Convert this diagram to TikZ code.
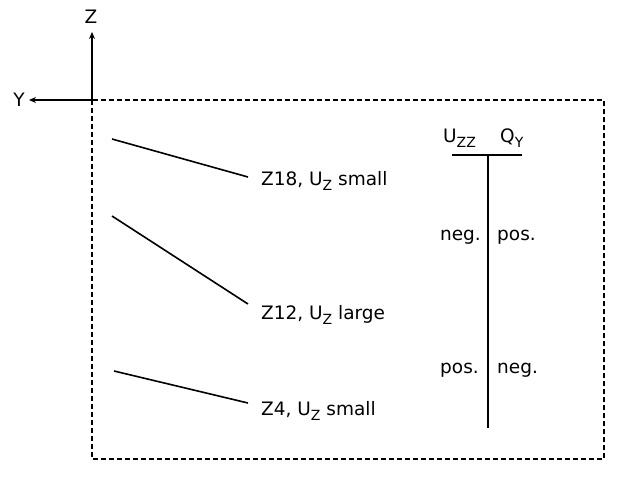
\documentclass[tikz,border=0pt]{standalone}
\usepackage{fontspec}
\setmainfont{DejaVu Sans}
\usetikzlibrary{arrows.meta}
\newcommand{\lowsub}[1]{\raisebox{-0.5ex}{\fontsize{14}{16}\selectfont #1}}
\tikzset{
  lbl/.style={font=\fontsize{18.5}{21}\selectfont, inner sep=0pt},
  ln/.style={line width=1.6pt},
  frame/.style={line width=1.2pt, dash pattern=on 5pt off 3pt},
  axis/.style={line width=1.6pt, -{Stealth[length=7pt,width=6pt]}},
}
\begin{document}
\begin{tikzpicture}[x=1pt,y=-1pt]
\useasboundingbox (0,0) rectangle (629,488);
% axes
\coordinate (O) at (92,100);
\coordinate (zt) at (92,32);
\coordinate (yt) at (29,100);
\draw[axis] (O) -- (zt);
\draw[axis] (O) -- (yt);
\node[lbl] (zl) at (91,17) {Z};
\node[lbl, anchor=east] (yl) at (25,100) {Y};
% dashed frame
\draw[frame] (O) rectangle (604,459);
% slices
\coordinate (a1) at (112,139); \coordinate (a2) at (248,177);
\coordinate (b1) at (112,216); \coordinate (b2) at (248,304);
\coordinate (c1) at (114,371); \coordinate (c2) at (248,403);
\draw[ln] (a1) -- (a2);
\draw[ln] (b1) -- (b2);
\draw[ln] (c1) -- (c2);
\node[lbl, anchor=base west] (t1) at (261,185) {Z18, U\lowsub{Z} small};
\node[lbl, anchor=base west] (t2) at (261,319) {Z12, U\lowsub{Z} large};
\node[lbl, anchor=base west] (t3) at (261,415) {Z4, U\lowsub{Z} small};
% sign table
\coordinate (h1) at (452,155); \coordinate (h2) at (522,155);
\coordinate (v1) at (488,155); \coordinate (v2) at (488,428);
\draw[ln] (h1) -- (h2);
\draw[ln] (v1) -- (v2);
\node[lbl, anchor=base west] (uzz) at (443,142) {U\lowsub{ZZ}};
\node[lbl, anchor=base west] (qy) at (500,142) {Q\lowsub{Y}};
\node[lbl, anchor=base east] (n1) at (481,240) {neg.};
\node[lbl, anchor=base west] (p1) at (497,240) {pos.};
\node[lbl, anchor=base east] (p2) at (479,373) {pos.};
\node[lbl, anchor=base west] (n2) at (497,373) {neg.};
\end{tikzpicture}
\end{document}
